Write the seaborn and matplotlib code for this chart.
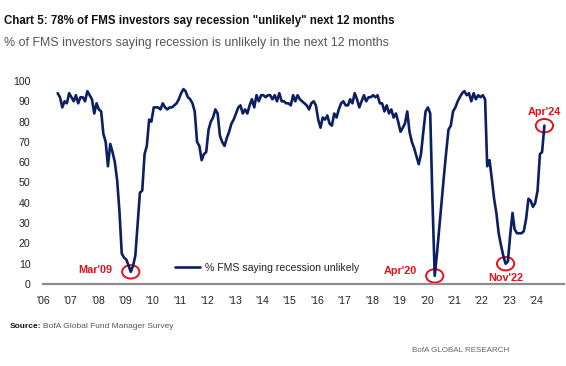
import pandas as pd
import matplotlib.pyplot as plt
import matplotlib.dates as mdates
from matplotlib.patches import Ellipse
import seaborn as sns

# % of FMS investors saying recession is unlikely, monthly Jul 2006 - Apr 2024
v2006 = [94, 92, 87, 90, 89, 94]
v2007 = [92, 90, 93, 89, 92, 92, 90, 95, 93, 91, 84, 89]
v2008 = [86, 85, 74, 70, 58, 69, 65, 60, 51, 36, 15, 13]
v2009 = [12, 9, 6, 9, 14, 30, 45, 46, 64, 68, 81, 80]
v2010 = [87, 87, 87, 86, 89, 87, 86, 87, 87, 88, 89, 91]
v2011 = [94, 96, 95, 92, 91, 89, 85, 70, 68, 61, 64, 65]
v2012 = [76, 80, 82, 86, 84, 73, 70, 68, 72, 75, 79, 81]
v2013 = [84, 87, 88, 84, 86, 84, 88, 91, 87, 93, 90, 93]
v2014 = [93, 92, 93, 93, 91, 93, 90, 94, 90, 90, 89, 89]
v2015 = [88, 93, 90, 93, 91, 90, 89, 88, 86, 89, 90, 88]
v2016 = [81, 77, 82, 81, 83, 79, 78, 84, 82, 86, 89, 90]
v2017 = [88, 88, 91, 89, 94, 91, 87, 90, 93, 90, 92, 92]
v2018 = [93, 92, 93, 89, 89, 85, 88, 84, 86, 82, 84, 80]
v2019 = [75, 77, 79, 85, 75, 70, 67, 63, 59, 64, 75, 85]
v2020 = [87, 84, 42, 4, 15, 28, 40, 53, 65, 76, 78, 85]
v2021 = [87, 90, 92, 94, 95, 93, 94, 90, 94, 91, 93, 92]
v2022 = [93, 91, 58, 61, 52, 42, 35, 25, 19, 14, 10, 11]
v2023 = [24, 35, 27, 25, 25, 25, 26, 32, 42, 41, 38, 40]
v2024 = [46, 64, 65, 78]

values = (v2006 + v2007 + v2008 + v2009 + v2010 + v2011 + v2012 + v2013 + v2014
          + v2015 + v2016 + v2017 + v2018 + v2019 + v2020 + v2021 + v2022 + v2023 + v2024)
dates = pd.date_range('2006-07-01', periods=len(values), freq='MS') + pd.Timedelta(days=14)
df = pd.DataFrame({'date': dates, 'pct': values})

years = list(range(2006, 2025))

# marked months and where their labels go
marks = [('2009-03', "Mar'09", 'left'), ('2020-04', "Apr'20", 'left'),
         ('2022-11', "Nov'22", 'below'), ('2024-04', "Apr'24", 'above')]

navy = '#0b1f61'
red = '#e3121b'

sns.set_style('white')
plt.rcParams['font.family'] = ['Liberation Sans', 'DejaVu Sans']

fig = plt.figure(figsize=(5.66, 3.66), dpi=100)
ax = fig.add_axes([43 / 566, 1 - 284 / 366, 521 / 566, 203 / 366])

sns.lineplot(data=df, x='date', y='pct', ax=ax, color=navy, linewidth=1.9,
             label='% FMS saying recession unlikely')

ax.set_ylim(0, 100)
ax.set_xlim(pd.Timestamp('2006-01-01'), pd.Timestamp('2025-01-01'))
ax.set_yticks(range(0, 101, 10))
ax.set_xticks([pd.Timestamp(f'{y}-01-01') for y in years])
ax.xaxis.set_major_formatter(mdates.DateFormatter("'%y"))
ax.tick_params(axis='both', length=0, labelsize=7.6, colors='#222222')
ax.tick_params(axis='y', pad=9)
ax.tick_params(axis='x', pad=9)
ax.set_xlabel('')
ax.set_ylabel('')
for s in ['top', 'right', 'left']:
    ax.spines[s].set_visible(False)
ax.spines['bottom'].set_color('#8c8c8c')
ax.spines['bottom'].set_linewidth(1.6)

leg = ax.legend(loc='center left', bbox_to_anchor=(175 / 566, 1 - 268 / 366),
                bbox_transform=fig.transFigure, frameon=False, fontsize=7.6,
                handlelength=2.4, handletextpad=0.45, borderpad=0, borderaxespad=0)
for t in leg.get_texts():
    t.set_color('#222222')

for month, text, side in marks:
    row = df[df['date'].dt.strftime('%Y-%m') == month].iloc[0]
    x = mdates.date2num(row['date'])
    y = row['pct']
    ax.add_patch(Ellipse((x, y), width=230, height=6.6, fill=False,
                         edgecolor=red, linewidth=1.4, clip_on=False))
    if side == 'left':
        # sit the label a little higher when the point is near the axis
        xy_off, ha, va = (-13, 1.5 if y > 5 else 3.5), 'right', 'center'
    elif side == 'below':
        xy_off, ha, va = (0, -7), 'center', 'top'
    else:
        xy_off, ha, va = (0, 6), 'center', 'bottom'
    ax.annotate(text, (x, y), xytext=xy_off, textcoords='offset points',
                ha=ha, va=va, color=red, fontsize=7.8, fontweight='bold')

fig.text(4 / 566, 1 - 21 / 366, 'Chart 5: 78% of FMS investors say recession "unlikely" next 12 months',
         fontsize=8.3, fontweight='bold', color='#111111', va='center')
fig.text(4 / 566, 1 - 43 / 366, '% of FMS investors saying recession is unlikely in the next 12 months',
         fontsize=8.9, color='#555555', va='center')

src = fig.text(10 / 566, 1 - 327 / 366, 'Source:', fontsize=6.0, fontweight='bold',
               color='#111111', va='center')
fig.canvas.draw()
bb = src.get_window_extent()
fig.text(bb.x1 / fig.bbox.width + 2 / 566, 1 - 327 / 366, 'BofA Global Fund Manager Survey',
         fontsize=6.0, color='#555555', va='center')
fig.text(509 / 566, 1 - 350 / 366, 'BofA GLOBAL RESEARCH', fontsize=5.8, color='#666666',
         ha='right', va='center')

fig.savefig('out.png', dpi=100, facecolor='white')
